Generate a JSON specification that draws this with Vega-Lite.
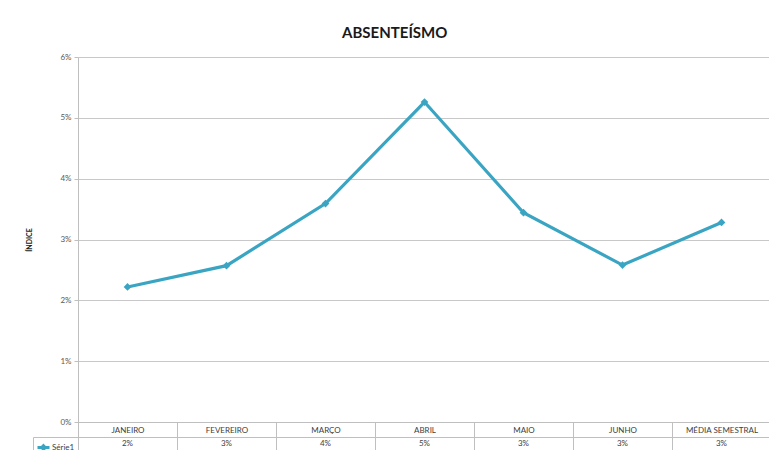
{
  "$schema": "https://vega.github.io/schema/vega-lite/v6.json",
  "padding": {"left": 25, "top": 26, "right": 0, "bottom": 0},
  "background": "white",
  "title": {
    "text": "ABSENTEÍSMO",
    "font": "Lato",
    "fontSize": 15,
    "fontWeight": "bold",
    "color": "#1a1a1a",
    "anchor": "middle",
    "dx": -4,
    "offset": 12
  },
  "data": {
    "values": [
      {"mes": "JANEIRO", "valor": 0.0222, "serie": "Série1"},
      {"mes": "FEVEREIRO", "valor": 0.0257, "serie": "Série1"},
      {"mes": "MARÇO", "valor": 0.0359, "serie": "Série1"},
      {"mes": "ABRIL", "valor": 0.0526, "serie": "Série1"},
      {"mes": "MAIO", "valor": 0.0344, "serie": "Série1"},
      {"mes": "JUNHO", "valor": 0.0258, "serie": "Série1"},
      {"mes": "MÉDIA SEMESTRAL", "valor": 0.0328, "serie": "Série1"}
    ]
  },
  "vconcat": [
    {
      "width": 693,
      "height": 365,
      "view": {"stroke": null},
      "encoding": {
        "x": {
          "field": "mes",
          "type": "nominal",
          "sort": null,
          "scale": {"paddingInner": 0, "paddingOuter": 0},
          "axis": {
            "title": null,
            "labelAngle": 0,
            "labelFont": "Lato",
            "labelFontSize": 8,
            "labelColor": "#404040",
            "labelPadding": -11,
            "labelBaseline": "top",
            "tickBand": "extent",
            "tickSize": 15,
            "tickColor": "#bfbfbf",
            "domainColor": "#bfbfbf",
            "grid": false
          }
        },
        "y": {
          "field": "valor",
          "type": "quantitative",
          "scale": {"domain": [0, 0.06], "nice": false},
          "axis": {
            "title": "ÍNDICE",
            "titleFont": "Lato",
            "titleFontSize": 7,
            "titleFontWeight": "bold",
            "titleColor": "#1a1a1a",
            "titlePadding": 27,
            "values": [0, 0.01, 0.02, 0.03, 0.04, 0.05, 0.06],
            "format": ".0%",
            "labelFont": "Lato",
            "labelFontSize": 8,
            "labelColor": "#595959",
            "labelPadding": 3,
            "tickSize": 4,
            "tickColor": "#bfbfbf",
            "domainColor": "#bfbfbf",
            "gridColor": "#c8c8c8",
            "gridWidth": 1.2
          }
        }
      },
      "layer": [
        {
          "mark": {"type": "line", "color": "#3aa5c3", "strokeWidth": 3.2}
        },
        {
          "mark": {"type": "point", "shape": "diamond", "filled": true, "color": "#3aa5c3", "size": 60, "opacity": 1}
        }
      ]
    },
    {
      "width": 693,
      "height": 14,
      "view": {"stroke": "#bfbfbf"},
      "encoding": {
        "x": {
          "field": "mes",
          "type": "nominal",
          "sort": null,
          "scale": {"paddingInner": 0, "paddingOuter": 0},
          "axis": {
            "title": null,
            "labels": false,
            "ticks": false,
            "domain": false,
            "grid": true,
            "tickBand": "extent",
            "gridColor": "#bfbfbf"
          }
        }
      },
      "layer": [
        {
          "mark": {"type": "text", "font": "Lato", "fontSize": 8, "color": "#404040", "baseline": "middle"},
          "encoding": {
            "text": {"field": "valor", "type": "quantitative", "format": ".0%"}
          }
        },
        {
          "mark": {"type": "point", "opacity": 0},
          "encoding": {
            "color": {
              "field": "serie",
              "type": "nominal",
              "scale": {"range": ["#3aa5c3"]},
              "legend": {
                "title": null,
                "orient": "left",
                "offset": 0,
                "padding": 3,
                "strokeColor": "#bfbfbf",
                "symbolType": "M-1,0H1M0,-0.3L0.3,0L0,0.3L-0.3,0Z",
                "symbolSize": 144,
                "symbolOpacity": 1,
                "symbolStrokeWidth": 3,
                "symbolStrokeColor": "#3aa5c3",
                "symbolFillColor": "#3aa5c3",
                "labelFont": "Lato",
                "labelFontSize": 8,
                "labelColor": "#404040",
                "labelOffset": 1,
                "rowPadding": 0
              }
            }
          }
        }
      ]
    }
  ],
  "spacing": 15,
  "bounds": "flush",
  "resolve": {"legend": {"color": "independent"}}
}
